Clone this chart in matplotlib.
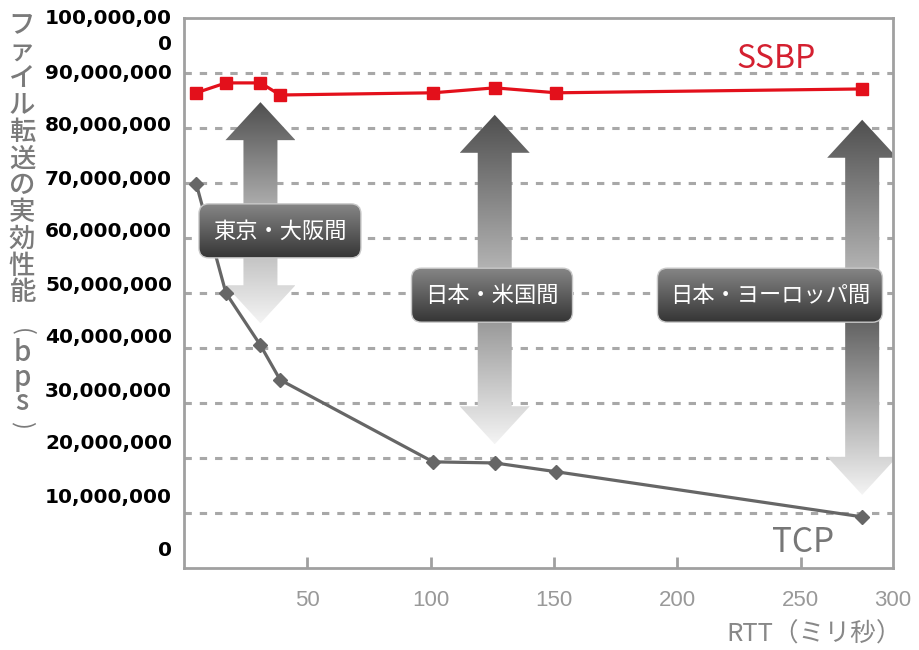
import numpy as np
import matplotlib
matplotlib.use("Agg")
import matplotlib.pyplot as plt
from matplotlib.patches import Polygon, FancyBboxPatch
from matplotlib.colors import LinearSegmentedColormap
from matplotlib.transforms import ScaledTranslation

plt.rcParams['font.family'] = ['Noto Sans CJK JP', 'DejaVu Sans']

# data
rtt = [5, 17, 31, 39, 101, 126, 151, 275]
ssbp = [86.4e6, 88.2e6, 88.2e6, 86.0e6, 86.4e6, 87.3e6, 86.4e6, 87.1e6]
tcp = [69.8e6, 50.0e6, 40.5e6, 34.2e6, 19.3e6, 19.1e6, 17.5e6, 9.3e6]

y_ticks = [0, 10e6, 20e6, 30e6, 40e6, 50e6, 60e6, 70e6, 80e6, 90e6, 100e6]
y_tick_labels = ['0', '10,000,000', '20,000,000', '30,000,000', '40,000,000',
                 '50,000,000', '60,000,000', '70,000,000', '80,000,000',
                 '90,000,000', '100,000,00\n0']
x_ticks = [50, 100, 150, 200, 250]
x_tick_labels = ['50', '100', '150', '200', '250', '300']

# arrows between the two curves
route_labels = ['東京・大阪間', '日本・米国間', '日本・ヨーロッパ間']
arrow_x = [31, 126, 275]
arrow_top = [84.7e6, 82.4e6, 81.5e6]
arrow_bottom = [44.5e6, 22.5e6, 13.3e6]

# label boxes (centre in data, size in pixels)
box_cx = [38.9, 124.9, 237.6]
box_cy = [61.3e6, 49.6e6, 49.6e6]
box_w_px = [162, 161, 225]
box_h_px = 54
lower_start = ['#b0b0b0', '#858585', '#4d4d4d']

XMAX = 287.5
W, H = 920, 650
L, R, T, B = 184, 893, 18, 568

fig = plt.figure(figsize=(W / 100, H / 100), dpi=100)
ax = fig.add_axes([L / W, 1 - B / H, (R - L) / W, (B - T) / H])
xpp = XMAX / (R - L)
ypp = 100e6 / (B - T)


def gradient_patch(patch, c_top, c_bot, x0, x1, y0, y1, z):
    patch.set_facecolor('none')
    patch.set_edgecolor('none')
    ax.add_patch(patch)
    cmap = LinearSegmentedColormap.from_list('g', [c_bot, c_top])
    grad = np.linspace(0, 1, 256).reshape(-1, 1)
    im = ax.imshow(grad, cmap=cmap, extent=[x0, x1, y0, y1], origin='lower',
                   aspect='auto', zorder=z, interpolation='bilinear')
    im.set_clip_path(patch)


# grid
for v in y_ticks[1:-1]:
    ax.axhline(v, color='#a8a8a8', lw=2.2, ls=(0, (2.4, 2.6)), zorder=1)

# double arrows
hw, sw, hl = 35 * xpp, 17 * xpp, 38 * ypp
for i in range(len(arrow_x)):
    x, top, bot, yc = arrow_x[i], arrow_top[i], arrow_bottom[i], box_cy[i]
    up = Polygon([(x, top), (x + hw, top - hl), (x + sw, top - hl), (x + sw, yc),
                  (x - sw, yc), (x - sw, top - hl), (x - hw, top - hl)],
                 closed=True, transform=ax.transData)
    gradient_patch(up, '#4f4f4f', '#c4c4c4', x - hw, x + hw, yc, top, 2)
    dn = Polygon([(x, bot), (x + hw, bot + hl), (x + sw, bot + hl), (x + sw, yc),
                  (x - sw, yc), (x - sw, bot + hl), (x - hw, bot + hl)],
                 closed=True, transform=ax.transData)
    gradient_patch(dn, lower_start[i], '#f4f4f4', x - hw, x + hw, bot, yc, 2)

# series
ax.plot(rtt, ssbp, color='#e3101b', lw=2.3, marker='s', ms=8, zorder=5)
ax.plot(rtt, tcp, color='#666666', lw=2.3, marker='D', ms=6.8, zorder=5)

# label boxes
for i, text in enumerate(route_labels):
    bw, bh = box_w_px[i] * xpp, box_h_px * ypp
    x0, y0 = box_cx[i] - bw / 2, box_cy[i] - bh / 2
    style = 'round,pad=0,rounding_size=%f' % (10 * xpp)
    box = FancyBboxPatch((x0, y0), bw, bh, boxstyle=style,
                         mutation_aspect=ypp / xpp, transform=ax.transData)
    gradient_patch(box, '#868686', '#353535', x0, x0 + bw, y0, y0 + bh, 6)
    edge = FancyBboxPatch((x0, y0), bw, bh, boxstyle=style,
                          mutation_aspect=ypp / xpp, facecolor='none',
                          edgecolor='#c8c8c8', lw=1, zorder=6.5)
    ax.add_patch(edge)
    ax.text(box_cx[i], box_cy[i], text, color='white', fontsize=16,
            ha='center', va='center', zorder=7)

# series names
ax.text(240, 92.6e6, 'SSBP', color='#d42030', fontsize=23, ha='center', va='center')
ax.text(251, 4.6e6, 'TCP', color='#777777', fontsize=24, ha='center', va='center')

ax.set_xlim(0, XMAX)
ax.set_ylim(0, 100e6)

# axes styling
for s in ax.spines.values():
    s.set_color('#a0a0a0')
    s.set_linewidth(2)
ax.set_yticks([])
ax.set_xticks(x_ticks + [XMAX])
ax.set_xticklabels(x_tick_labels, family='Liberation Sans')
ax.tick_params(axis='x', direction='in', length=8, width=2, color='#a0a0a0',
               labelcolor='#999999', labelsize=16, pad=16)
ax.xaxis.get_major_ticks()[-1].tick1line.set_visible(False)

# y tick labels (drawn as text, reference labels drift upward)
ytr = ax.get_yaxis_transform()
for v, lab in zip(y_ticks, y_tick_labels):
    if v > 90e6:
        dy, va = 9, 'top'
    else:
        dy, va = 18 * (90e6 - v) / 90e6, 'center'
    off = ScaledTranslation(-12 / 100, dy / 100, fig.dpi_scale_trans)
    ax.text(0, v, lab, transform=ytr + off, ha='right', va=va,
            multialignment='right', fontsize=14.5, fontweight='bold',
            family='DejaVu Sans', color='black', linespacing=1.45)

# vertical y-axis title
for i, ch in enumerate('ファイル転送の実効性能'):
    fig.text(22 / W, 1 - (25 + 26.8 * i) / H, ch, ha='center', va='center',
             fontsize=19, color='#7a7a7a', fontweight=500)
fig.text(22 / W, 1 - 332 / H, '(', ha='center', va='center',
         fontsize=17, color='#7a7a7a', rotation=-90)
fig.text(22 / W, 1 - 377 / H, 'b\np\ns', ha='center', va='center',
         fontsize=20, color='#7a7a7a', linespacing=0.8, fontweight=500)
fig.text(22 / W, 1 - 425 / H, ')', ha='center', va='center',
         fontsize=17, color='#7a7a7a', rotation=-90)

fig.text(902 / W, 1 - 635 / H, 'RTT（ミリ秒）', ha='right', va='center',
         fontsize=18.5, color='#888888')

fig.savefig('out.png', dpi=100)
